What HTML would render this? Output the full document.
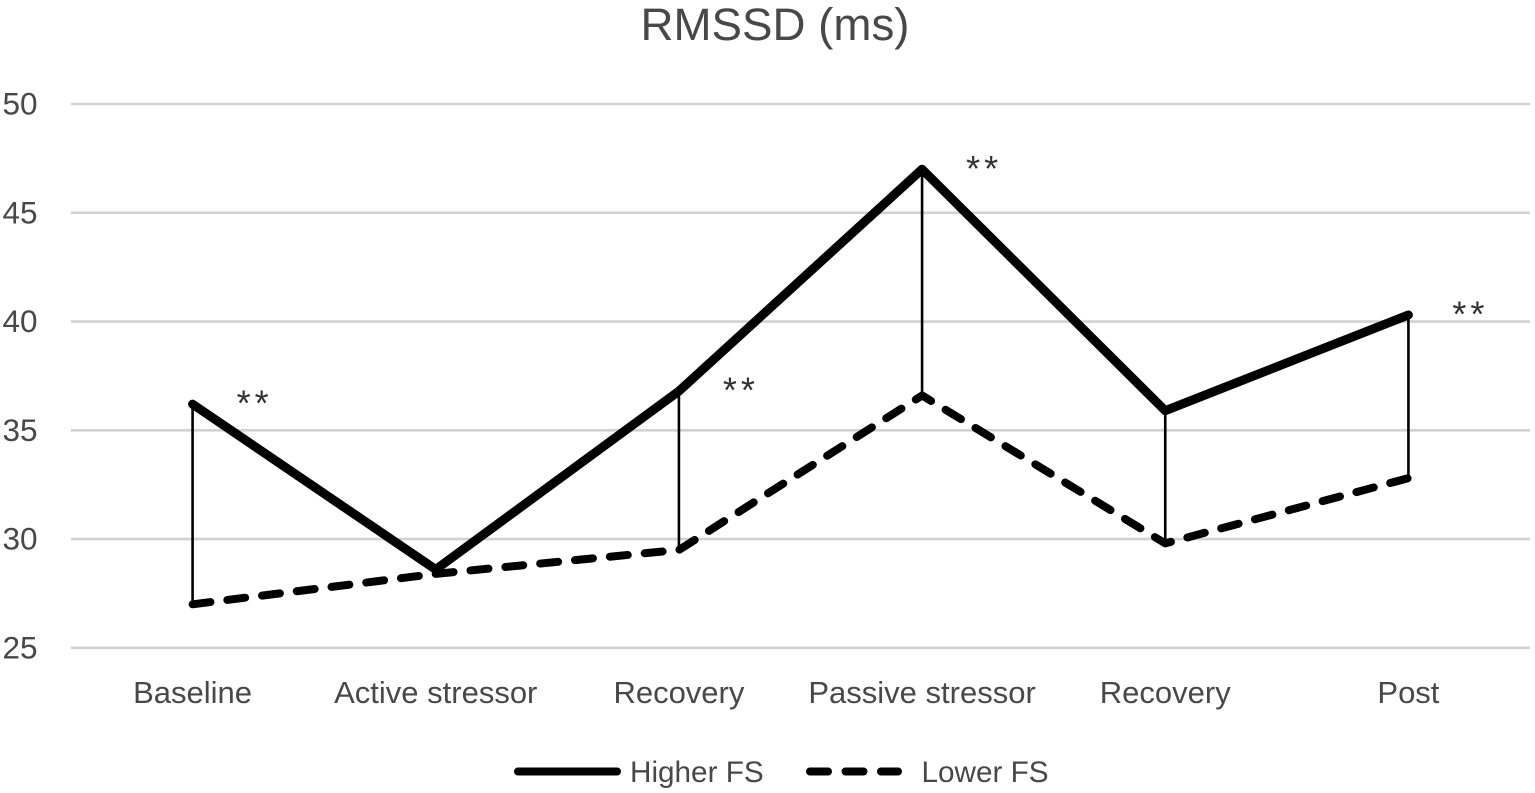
<!DOCTYPE html>
<html lang="en">
<head>
<meta charset="utf-8">
<title>RMSSD (ms)</title>
<style>
html,body{margin:0;padding:0;background:#fff;}
svg{display:block;}
text{font-family:"Liberation Sans",sans-serif;fill:#484848;}
</style>
</head>
<body>
<svg id="chart" xmlns="http://www.w3.org/2000/svg" width="1535" height="793" viewBox="0 0 1535 793">
  <rect x="0" y="0" width="1535" height="793" fill="#ffffff"/>
  <text x="775" y="40" font-size="45.7" text-anchor="middle">RMSSD (ms)</text>
  <g id="grid"></g>
  <g id="yticks"></g>
  <g id="xticks"></g>
  <g id="connectors"></g>
  <g id="series"></g>
  <g id="stars"></g>
  <g>
    <g>
      <line x1="518" y1="771.5" x2="617" y2="771.5" stroke="#000" stroke-width="8" stroke-linecap="round"/>
      <text x="630" y="782" font-size="29.7">Higher FS</text>
    </g>
    <g>
      <line x1="810" y1="771.5" x2="898" y2="771.5" stroke="#000" stroke-width="8" stroke-linecap="round" stroke-dasharray="18 17.5"/>
      <text x="921.5" y="782" font-size="29.7">Lower FS</text>
    </g>
  </g>
</svg>
<script>
const categories = ["Baseline", "Active stressor", "Recovery", "Passive stressor", "Recovery", "Post"];
const higherFS = [36.2, 28.6, 36.8, 47.0, 35.9, 40.3];
const lowerFS = [27.0, 28.4, 29.5, 36.6, 29.8, 32.8];
const yTicks = [25, 30, 35, 40, 45, 50];
const connectorIndices = [0, 2, 3, 4, 5];
const starIndices = [0, 2, 3, 5];
const starLabel = "**";

const NS = "http://www.w3.org/2000/svg";
const plotLeft = 71, plotRight = 1530, plotTop = 104, plotBottom = 647.8;
const yMin = 25, yMax = 50;

function xScale(i) {
  return plotLeft + (i + 0.5) * (plotRight - plotLeft) / categories.length;
}
function yScale(v) {
  return plotBottom - (v - yMin) * (plotBottom - plotTop) / (yMax - yMin);
}
function make(tag, parent, attrs) {
  const el = document.createElementNS(NS, tag);
  for (const k in attrs) el.setAttribute(k, attrs[k]);
  parent.appendChild(el);
  return el;
}

const grid = document.getElementById("grid");
const yt = document.getElementById("yticks");
yTicks.forEach(function (t) {
  const line = make("line", grid, { x1: plotLeft, x2: plotRight, y1: yScale(t), y2: yScale(t), stroke: "#d2d2d2", "stroke-width": 2.6 });
  
  
  const label = make("text", yt, { x: 2.5, y: yScale(t) + 10.5, "font-size": 31.5 });
  
  
  label.textContent = t;
});

const xt = document.getElementById("xticks");
categories.forEach(function (c, i) {
  const label = make("text", xt, { x: xScale(i), y: 703, "font-size": 31, "text-anchor": "middle" });
  
  
  label.textContent = c;
});

const conn = document.getElementById("connectors");
connectorIndices.forEach(function (i) {
  const line = make("line", conn, { x1: xScale(i), x2: xScale(i), y1: yScale(higherFS[i]), y2: yScale(lowerFS[i]), stroke: "#000", "stroke-width": 2.6 });
  
  
});

function points(values) {
  return values.map(function (v, i) { return xScale(i) + "," + yScale(v); }).join(" ");
}
const seriesGroup = document.getElementById("series");
const lowerLine = make("polyline", seriesGroup, { points: points(lowerFS), fill: "none", stroke: "#000", "stroke-width": 8, "stroke-linecap": "round", "stroke-linejoin": "round", "stroke-dasharray": "18 17" });


const higherLine = make("polyline", seriesGroup, { points: points(higherFS), fill: "none", stroke: "#000", "stroke-width": 9, "stroke-linecap": "round", "stroke-linejoin": "round" });



const starsGroup = document.getElementById("stars");
starIndices.forEach(function (i) {
  const s = make("text", starsGroup, { x: xScale(i) + 44, y: yScale(higherFS[i]) + 11.5, "font-size": 36, "letter-spacing": "4", style: "fill:#333" });
  
  
  s.textContent = starLabel;
});
</script>
</body>
</html>
